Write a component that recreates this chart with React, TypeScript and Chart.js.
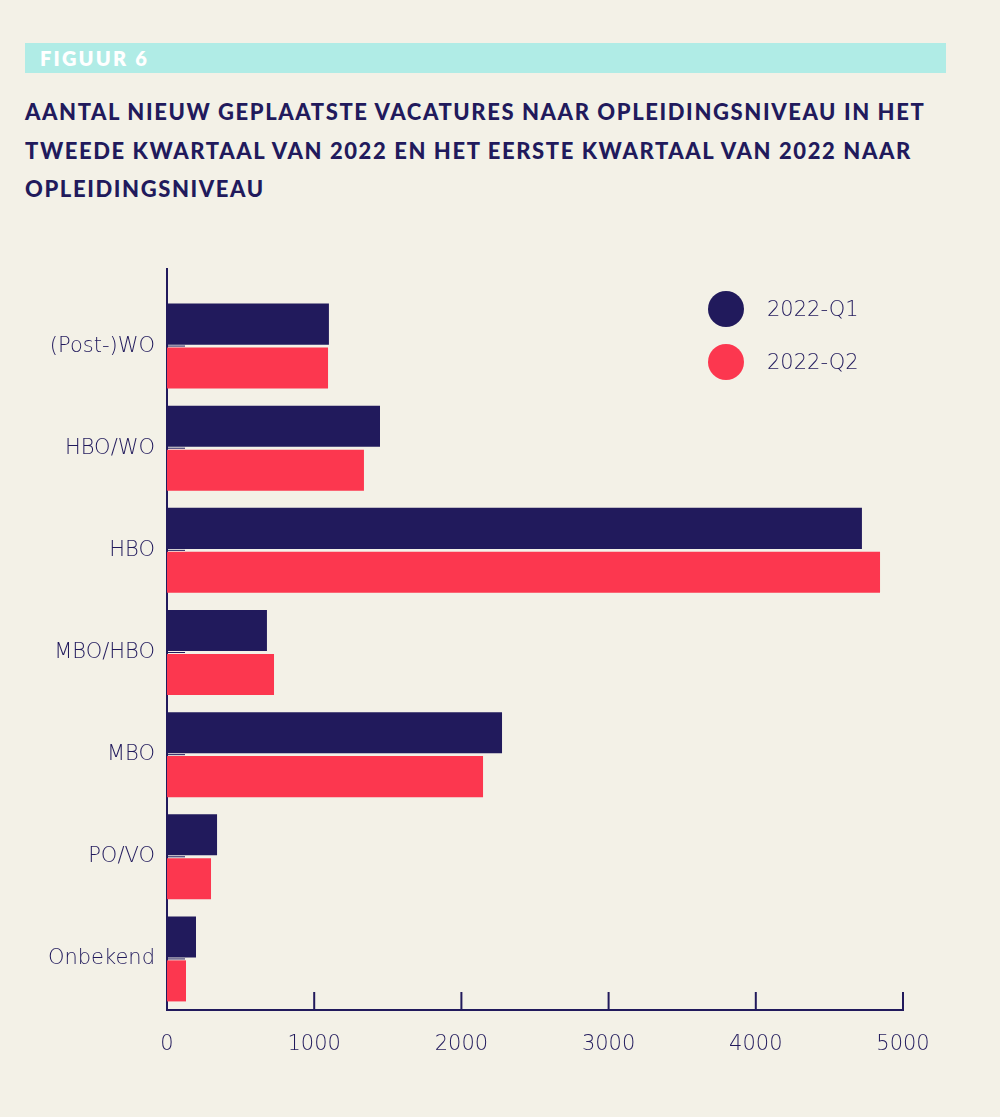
import React, { useEffect, useRef } from "react";
import { Chart, registerables } from "chart.js";

Chart.register(...registerables);

const categories = ["(Post-)WO", "HBO/WO", "HBO", "MBO/HBO", "MBO", "PO/VO", "Onbekend"];
const seriesNames = ["2022-Q1", "2022-Q2"];
const q1Values = [1100, 1447, 4721, 679, 2276, 340, 197];
const q2Values = [1094, 1338, 4844, 727, 2147, 299, 129];
const xTickValues = [0, 1000, 2000, 3000, 4000, 5000];
const titleLines = [
  "AANTAL NIEUW GEPLAATSTE VACATURES NAAR OPLEIDINGSNIVEAU IN HET",
  "TWEEDE KWARTAAL VAN 2022 EN HET EERSTE KWARTAAL VAN 2022 NAAR",
  "OPLEIDINGSNIVEAU",
];
const figureLabel = "FIGUUR 6";

const NAVY = "#211a5c";
const RED = "#fc374f";
const BG = "#f3f1e7";
const TEAL = "#b0ece6";
const seriesColors = [NAVY, RED];
const TITLE_FONT = "Lato, 'Noto Sans', sans-serif";
const LABEL_FONT = "'DejaVu Sans', 'Open Sans', sans-serif";

const axisExtras = {
  id: "axisExtras",
  afterDatasetsDraw(chart: any) {
    const { ctx, chartArea, scales } = chart;
    const x = scales.x;
    const y = scales.y;
    ctx.save();
    ctx.strokeStyle = NAVY;
    ctx.lineWidth = 2;
    x.ticks.forEach((_t: any, i: number) => {
      if (i === 0) return;
      const px = x.getPixelForTick(i);
      ctx.beginPath();
      ctx.moveTo(px, chartArea.bottom);
      ctx.lineTo(px, chartArea.bottom - 18);
      ctx.stroke();
    });
    ctx.beginPath();
    ctx.moveTo(chartArea.left, chartArea.top);
    ctx.lineTo(chartArea.left, chartArea.top - 27);
    ctx.stroke();
    ctx.lineWidth = 1;
    y.ticks.forEach((_t: any, i: number) => {
      const py = y.getPixelForTick(i);
      ctx.beginPath();
      ctx.moveTo(chartArea.left, py);
      ctx.lineTo(chartArea.left + 18, py);
      ctx.stroke();
    });
    ctx.restore();
  },
};

export default function App() {
  const canvasRef = useRef<HTMLCanvasElement | null>(null);

  useEffect(() => {
    if (!canvasRef.current) return;
    const chart = new Chart(canvasRef.current, {
      type: "bar",
      data: {
        labels: categories,
        datasets: [
          {
            label: seriesNames[0],
            data: q1Values,
            backgroundColor: seriesColors[0],
            borderWidth: 0,
            categoryPercentage: 0.86,
            barPercentage: 0.935,
          },
          {
            label: seriesNames[1],
            data: q2Values,
            backgroundColor: seriesColors[1],
            borderWidth: 0,
            categoryPercentage: 0.86,
            barPercentage: 0.935,
          },
        ],
      },
      options: {
        indexAxis: "y",
        responsive: false,
        animation: false,
        devicePixelRatio: 1,
        layout: { padding: { top: 65, left: 0, right: 97, bottom: 57 } },
        plugins: {
          legend: { display: false },
          tooltip: { enabled: false },
        },
        scales: {
          x: {
            type: "linear",
            min: 0,
            max: 5000,
            afterBuildTicks: (scale: any) => {
              scale.ticks = xTickValues.map((v) => ({ value: v }));
            },
            afterFit: (scale: any) => {
              scale.height = 50;
            },
            grid: { display: false, drawTicks: false },
            border: { display: true, color: NAVY, width: 2 },
            ticks: {
              color: NAVY,
              padding: 22,
              maxRotation: 0,
              callback: (v: any) => String(v),
              font: { family: LABEL_FONT, size: 21, weight: 200 as any },
            },
          },
          y: {
            type: "category",
            afterFit: (scale: any) => {
              scale.width = 167;
            },
            grid: { display: false, drawTicks: false },
            border: { display: true, color: NAVY, width: 2 },
            ticks: {
              color: NAVY,
              padding: 12,
              font: { family: LABEL_FONT, size: 21, weight: 200 as any },
            },
          },
        },
      },
      plugins: [axisExtras],
    } as any);
    return () => chart.destroy();
  }, []);

  return (
    <div
      style={{
        position: "absolute",
        left: 0,
        top: 0,
        width: 1000,
        height: 1117,
        background: BG,
        overflow: "hidden",
        fontFamily: TITLE_FONT,
        color: NAVY,
      }}
    >
      <div
        style={{
          position: "absolute",
          left: 25,
          top: 43,
          width: 921,
          height: 30,
          background: TEAL,
        }}
      />
      <div
        style={{
          position: "absolute",
          left: 40,
          top: 43,
          height: 30,
          lineHeight: "30px",
          color: "#ffffff",
          fontWeight: 800,
          fontSize: 20,
          letterSpacing: 2.2,
        }}
      >
        {figureLabel}
      </div>
      {titleLines.map((line, i) => (
        <div
          key={i}
          style={{
            position: "absolute",
            left: 25,
            top: 93 + i * 38.5,
            height: 38,
            lineHeight: "38px",
            fontWeight: 900,
            fontSize: 22,
            letterSpacing: 1.6,
            whiteSpace: "nowrap",
            color: NAVY,
          }}
        >
          {line}
        </div>
      ))}
      <canvas
        ref={canvasRef}
        width={1000}
        height={887}
        style={{ position: "absolute", left: 0, top: 230, width: 1000, height: 887 }}
      />
      {seriesNames.map((name, i) => (
        <div
          key={name}
          style={{
            position: "absolute",
            left: 708,
            top: 291 + i * 53,
            height: 36,
            display: "flex",
            alignItems: "center",
          }}
        >
          <div
            style={{
              width: 36,
              height: 36,
              borderRadius: 18,
              background: seriesColors[i],
            }}
          />
          <div
            style={{
              marginLeft: 23,
              fontSize: 21,
              fontWeight: 200,
              fontFamily: LABEL_FONT,
              color: NAVY,
            }}
          >
            {name}
          </div>
        </div>
      ))}
    </div>
  );
}
